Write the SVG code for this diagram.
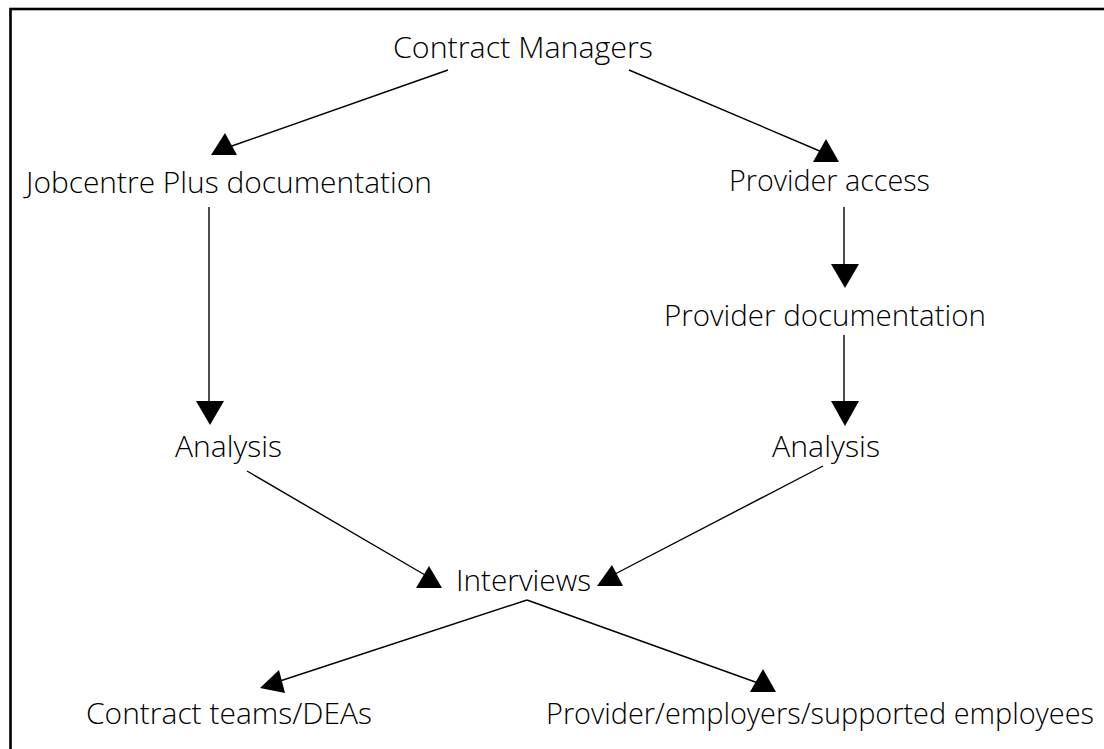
<svg xmlns="http://www.w3.org/2000/svg" width="1104" height="749" viewBox="0 0 1104 749">
  <style>
    .lbl { font-family: "Open Sans", "Liberation Sans", sans-serif; font-weight: 300; font-size: 30px; fill: #000; }
    .long { font-size: 28.5px; }
    .edge { stroke: #000; stroke-width: 1.4; fill: none; }
    .head { fill: #000; stroke: none; }
  </style>
  <rect x="0" y="0" width="1104" height="749" fill="#fff"/>
  <!-- outer frame, open past the right and bottom edges -->
  <rect x="10.5" y="9" width="1200" height="900" fill="none" stroke="#000" stroke-width="2.6"/>

  <g id="connectors">
    <line class="edge" x1="448" y1="70" x2="229" y2="147"/>
    <polygon class="head" points="225,133 211,155 237,155"/>
    <line class="edge" x1="629" y1="70" x2="822" y2="152"/>
    <polygon class="head" points="826,139 813,162 839,162"/>
    <line class="edge" x1="209" y1="207" x2="209" y2="402"/>
    <polygon class="head" points="196,401 224,401 210,425"/>
    <line class="edge" x1="844" y1="207" x2="844" y2="265"/>
    <polygon class="head" points="831,264 859,264 845,288"/>
    <line class="edge" x1="844" y1="335" x2="844" y2="402"/>
    <polygon class="head" points="831,401 859,401 845,426"/>
    <line class="edge" x1="247" y1="471" x2="425" y2="575"/>
    <polygon class="head" points="429,566 416,588 442,588"/>
    <line class="edge" x1="823" y1="466" x2="615" y2="574"/>
    <polygon class="head" points="612,565 597,586 623,586"/>
    <line class="edge" x1="527" y1="600" x2="280" y2="681"/>
    <polygon class="head" points="279,670 260,688 285,693"/>
    <line class="edge" x1="527" y1="600" x2="758" y2="683"/>
    <polygon class="head" points="763,669 750,692 776,692"/>
  </g>

  <g id="contract-managers"><text class="lbl" x="393" y="58" textLength="260" lengthAdjust="spacingAndGlyphs">Contract Managers</text></g>
  <g id="jobcentre-docs"><text class="lbl" x="26" y="193" textLength="406" lengthAdjust="spacingAndGlyphs">Jobcentre Plus documentation</text></g>
  <g id="provider-access"><text class="lbl" x="729" y="191" textLength="201" lengthAdjust="spacingAndGlyphs">Provider access</text></g>
  <g id="provider-docs"><text class="lbl" x="664" y="326" textLength="322" lengthAdjust="spacingAndGlyphs">Provider documentation</text></g>
  <g id="analysis-left"><text class="lbl" x="175" y="457" textLength="107" lengthAdjust="spacingAndGlyphs">Analysis</text></g>
  <g id="analysis-right"><text class="lbl" x="772" y="457" textLength="108" lengthAdjust="spacingAndGlyphs">Analysis</text></g>
  <g id="interviews"><text class="lbl" x="456" y="591" textLength="135" lengthAdjust="spacingAndGlyphs">Interviews</text></g>
  <g id="contract-teams"><text class="lbl" x="86" y="724" textLength="286" lengthAdjust="spacingAndGlyphs">Contract teams/DEAs</text></g>
  <g id="provider-employers"><text class="lbl long" x="546" y="724" textLength="548" lengthAdjust="spacingAndGlyphs">Provider/employers/supported employees</text></g>
</svg>
